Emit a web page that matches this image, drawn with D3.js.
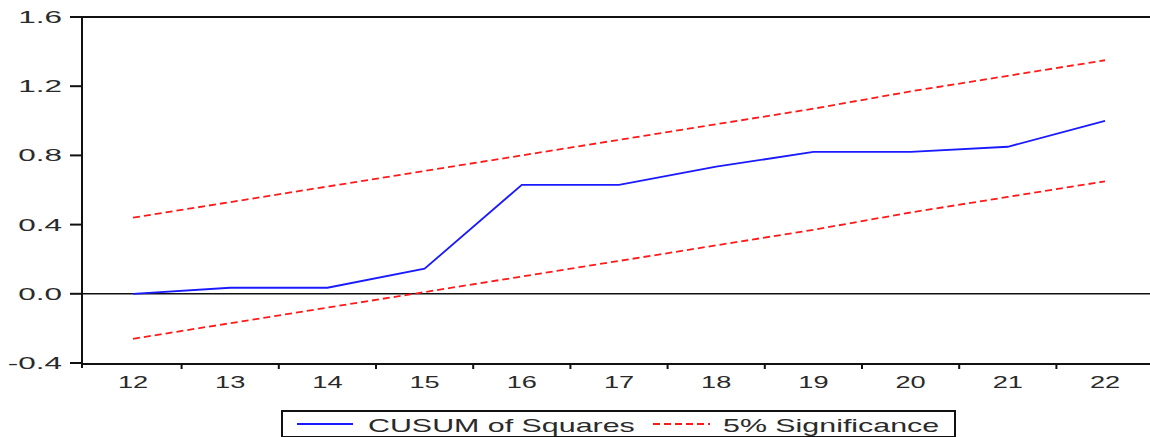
<!DOCTYPE html>
<html>
<head>
<meta charset="utf-8">
<script src="https://cdn.jsdelivr.net/npm/d3@7"></script>
<style>
  html, body { margin: 0; padding: 0; background: #fff; }
  svg { display: block; }
  text { font-family: "Liberation Sans", Arial, sans-serif; fill: #2a2a2a; }
</style>
</head>
<body>
<svg id="chart" width="1150" height="437"></svg>
<script>
// ---- data ----
const categories = [12, 13, 14, 15, 16, 17, 18, 19, 20, 21, 22];
const cusumSq   = [0.00, 0.035, 0.035, 0.145, 0.63, 0.63, 0.735, 0.82, 0.82, 0.85, 1.00];
const upper5    = [0.44, 0.53, 0.62, 0.71, 0.80, 0.89, 0.98, 1.07, 1.17, 1.26, 1.35];
const lower5    = [-0.26, -0.17, -0.08, 0.01, 0.10, 0.19, 0.28, 0.37, 0.47, 0.56, 0.65];
const yTicks    = [-0.4, 0.0, 0.4, 0.8, 1.2, 1.6];
const yTickLabels = ["-0.4", "0.0", "0.4", "0.8", "1.2", "1.6"];
const legendLabels = ["CUSUM of Squares", "5% Significance"];

// ---- layout ----
const svg = d3.select("#chart");
const plotLeft = 82, plotTop = 17, plotBottom = 363, plotRight = 1150;

const x = d3.scaleBand().domain(categories).range([84.4, 1153.6]).padding(0);
const xc = d => x(d) + x.bandwidth() / 2;
const y = d3.scaleLinear().domain([-0.4, 1.6]).range([plotBottom, plotTop]);

const ink = "#111";

// top frame line
svg.append("line").attr("x1", plotLeft).attr("x2", plotRight)
  .attr("y1", plotTop).attr("y2", plotTop)
  .attr("stroke", ink).attr("stroke-width", 2);

// zero line
svg.append("line").attr("x1", plotLeft).attr("x2", plotRight)
  .attr("y1", y(0)).attr("y2", y(0))
  .attr("stroke", ink).attr("stroke-width", 1.6);

// y axis
const yAxis = svg.append("g");
yAxis.append("line").attr("x1", plotLeft).attr("x2", plotLeft)
  .attr("y1", plotTop).attr("y2", plotBottom + 5)
  .attr("stroke", ink).attr("stroke-width", 2);
yTicks.forEach((t, i) => {
  yAxis.append("line").attr("x1", plotLeft - 12).attr("x2", plotLeft)
    .attr("y1", y(t)).attr("y2", y(t))
    .attr("stroke", ink).attr("stroke-width", 2);
  yAxis.append("text")
    .attr("transform", `translate(62,${y(t) + 6}) scale(1.85,1)`)
    .attr("text-anchor", "end")
    .attr("font-size", 17)
    .text(yTickLabels[i]);
});

// x axis
const xAxis = svg.append("g");
xAxis.append("line").attr("x1", plotLeft).attr("x2", plotRight)
  .attr("y1", plotBottom + 1).attr("y2", plotBottom + 1)
  .attr("stroke", ink).attr("stroke-width", 2);
categories.forEach((c, i) => {
  if (i > 0) {
    xAxis.append("line").attr("x1", x(c)).attr("x2", x(c))
      .attr("y1", plotBottom + 1).attr("y2", plotBottom + 6)
      .attr("stroke", ink).attr("stroke-width", 2);
  }
  xAxis.append("text")
    .attr("transform", `translate(${xc(c)},388) scale(1.6,1)`)
    .attr("text-anchor", "middle")
    .attr("font-size", 17)
    .text(c);
});

// lines
const line = d3.line().x((d, i) => xc(categories[i])).y(d => y(d));

svg.append("path").datum(upper5).attr("d", line)
  .attr("fill", "none").attr("stroke", "#ff1a1a").attr("stroke-width", 1.8)
  .attr("stroke-dasharray", "7,4");
svg.append("path").datum(lower5).attr("d", line)
  .attr("fill", "none").attr("stroke", "#ff1a1a").attr("stroke-width", 1.8)
  .attr("stroke-dasharray", "7,4");
svg.append("path").datum(cusumSq).attr("d", line)
  .attr("fill", "none").attr("stroke", "#1a1aff").attr("stroke-width", 1.8);

// legend
const lg = svg.append("g");
lg.append("rect").attr("x", 282).attr("y", 411).attr("width", 673).attr("height", 26)
  .attr("fill", "#fff").attr("stroke", ink).attr("stroke-width", 2);
lg.append("line").attr("x1", 297).attr("x2", 353).attr("y1", 424).attr("y2", 424)
  .attr("stroke", "#1a1aff").attr("stroke-width", 1.8);
lg.append("text").attr("transform", "translate(368,432) scale(1.6,1)")
  .attr("font-size", 19).text(legendLabels[0]);
lg.append("line").attr("x1", 653).attr("x2", 710).attr("y1", 424).attr("y2", 424)
  .attr("stroke", "#ff1a1a").attr("stroke-width", 1.8).attr("stroke-dasharray", "7,4");
lg.append("text").attr("transform", "translate(723,432) scale(1.6,1)")
  .attr("font-size", 19).text(legendLabels[1]);
</script>
</body>
</html>
